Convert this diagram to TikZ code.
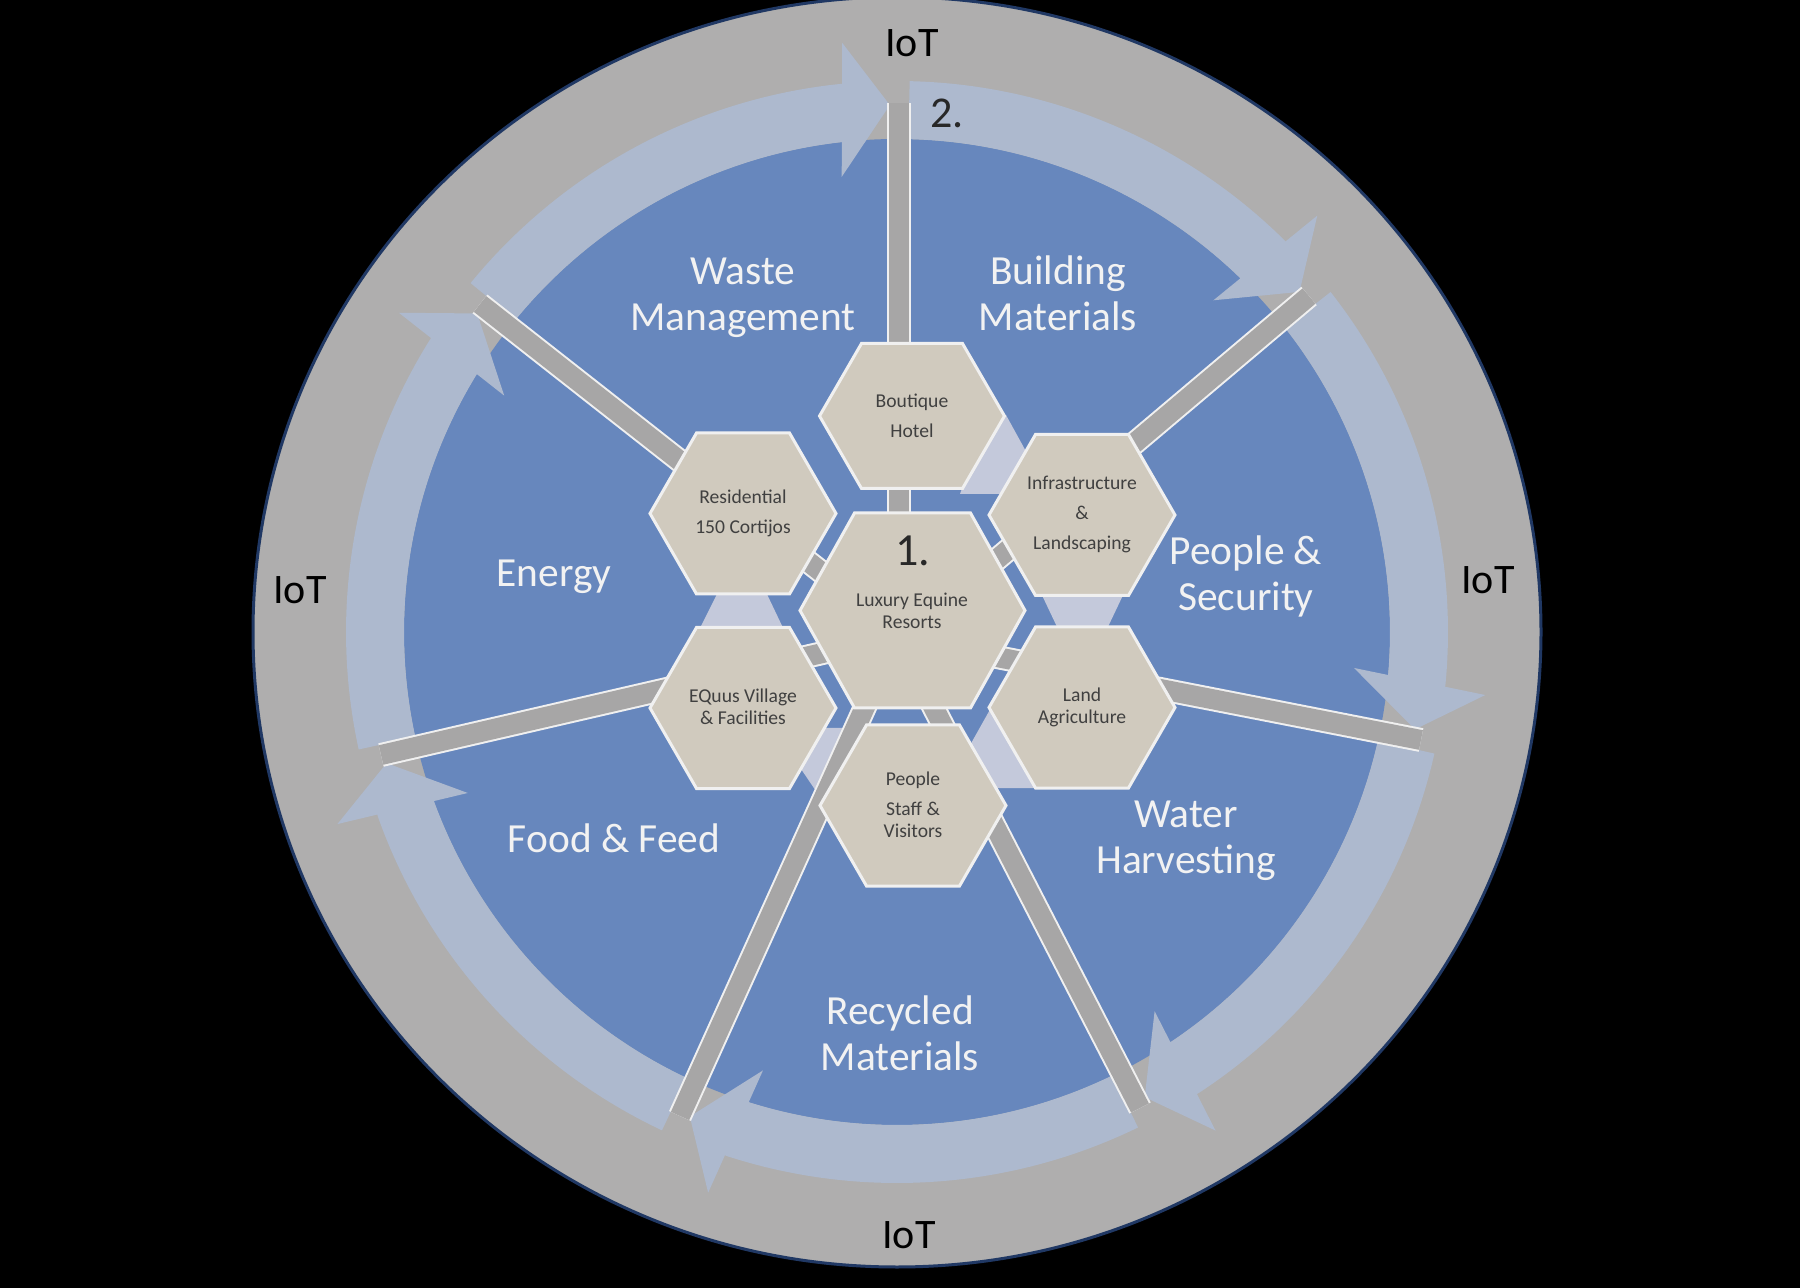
\documentclass[tikz,border=0pt]{standalone}
\usepackage{fontspec}
\setmainfont{Carlito}
\usetikzlibrary{calc}
\definecolor{ringgray}{RGB}{175,174,174}
\definecolor{spokegray}{RGB}{167,166,166}
\definecolor{navy}{RGB}{32,56,100}
\definecolor{discblue}{RGB}{103,135,189}
\definecolor{arrowc}{RGB}{173,185,206}
\definecolor{linkc}{RGB}{196,201,219}
\definecolor{hexfill}{RGB}{208,202,190}
\definecolor{hexline}{RGB}{240,240,240}
\definecolor{hextext}{RGB}{64,64,64}
\definecolor{labeltext}{RGB}{242,242,242}
\definecolor{numtext}{RGB}{40,40,40}
\newcommand{\hexshape}[5]{\filldraw[hexstyle] (#1-#3,#2) -- (#1-#4,#2-#5) -- (#1+#4,#2-#5) -- (#1+#3,#2) -- (#1+#4,#2+#5) -- (#1-#4,#2+#5) -- cycle;}
\begin{document}
\begin{tikzpicture}[x=0.5pt,y=-0.5pt,
  hexstyle/.style={fill=hexfill, draw=hexline, line width=1.5pt, line join=miter},
  hextxt/.style={text=hextext, align=center, font=\fontsize{9.8}{11}\selectfont, inner sep=0pt},
  seglabel/.style={text=labeltext, align=center, font=\fontsize{20.7}{23}\selectfont, inner sep=0pt},
  iot/.style={text=black, font=\fontsize{21}{25}\selectfont, inner sep=0pt},
  numlabel/.style={text=numtext, inner sep=0pt},
  spokeedge/.style={draw=hexline, line width=12pt},
  spokecore/.style={draw=spokegray, line width=10pt},
  link/.style={fill=linkc}]
\useasboundingbox (0,0) rectangle (1800,1288);
\fill[black] (0,0) rectangle (1800,1288);
\begin{scope}
\clip (0,0) rectangle (1800,1288);
\filldraw[fill=ringgray, draw=navy, line width=1.5pt] (897,632) ellipse [x radius=644, y radius=635];
\end{scope}
\fill[discblue] (897,632) circle[radius=493];
% circular arrows (clockwise), head back edge parallel to the spoke it meets
\begin{scope}[shift={(897,632)}, yscale=-1]
\foreach \a/\b in {141.81/89.78, 89.78/39.20, 39.20/-11.65, -11.65/-62.96, -62.96/-114.15, -114.15/-166.59, 193.41/141.81}{
  \pgfmathsetmacro{\aS}{\a-1.1}
  \pgfmathsetmacro{\aT}{\b+1.0}
  \pgfmathsetmacro{\aB}{\b+6.24}
  \fill[arrowc] (\aS:551) arc[start angle=\aS, end angle=\aB, radius=551]
    -- ($(\aB:525)+(\b:26)$) -- ($(\aB:525)+(\b:67)$) -- (\aT:527)
    -- ($(\aB:525)+(\b:-67)$) -- ($(\aB:525)+(\b:-32)$) -- (\aB:493)
    arc[start angle=\aB, end angle=\aS, radius=493] -- cycle;
}
\end{scope}
% light links between outer hexagons
\fill[link] (1006,415) -- (1028,455) -- (1001,494) -- (960,494) -- (965,480) -- cycle;
\fill[link] (1040,591) -- (1125,591) -- (1106,631) -- (1059,631) -- cycle;
\fill[link] (969,747) -- (992,706) -- (1036,788) -- (996,788) -- cycle;
\fill[link] (820,728) -- (868,728) -- (824,803) -- (799,766) -- cycle;
\fill[link] (719,590) -- (765,590) -- (785,632) -- (698,632) -- cycle;
% spokes
\coordinate (s1in) at (899,500);  \coordinate (s1out) at (899,103);
\coordinate (s2in) at (1002,555); \coordinate (s2out) at (1309,296);
\coordinate (s3in) at (1007,659); \coordinate (s3out) at (1421,740);
\coordinate (s4in) at (939,718);  \coordinate (s4out) at (1140,1108);
\coordinate (s5in) at (860,718);  \coordinate (s5out) at (680,1116);
\coordinate (s6in) at (814,655);  \coordinate (s6out) at (381,755);
\coordinate (s7in) at (815,567);  \coordinate (s7out) at (480,304);
\foreach \s in {1,...,7}{
  \draw[spokeedge] ($(s\s in)!-0.1!(s\s out)$) -- (s\s out);
  \draw[spokecore] ($(s\s in)!-0.1!(s\s out)$) -- (s\s out);
}
% hexagons
\hexshape{912}{416}{92.5}{50.5}{72.5}
\hexshape{912.5}{610.5}{112.5}{58}{97.5}
\hexshape{1082}{515}{93}{46.5}{80.5}
\hexshape{1082}{707.5}{93}{46.5}{80.5}
\hexshape{913}{805.5}{93}{46.5}{80.5}
\hexshape{743}{708}{93}{46.5}{80.5}
\hexshape{743}{513.5}{93}{46.5}{80.5}
% hexagon texts
\node[hextxt] (hotel) at (912,416) {Boutique\\[4pt]Hotel};
\node[numlabel, font=\fontsize{23}{25}\selectfont] (one) at (913,551) {1.};
\node[hextxt] (core) at (912,611) {Luxury Equine\\Resorts};
\node[hextxt] (infra) at (1082,514) {Infrastructure\\[4pt]\&\\[4pt]Landscaping};
\node[hextxt] (land) at (1082,707) {Land\\Agriculture};
\node[hextxt] (people) at (913,805) {People\\[4pt]Staff \&\\Visitors};
\node[hextxt] (equus) at (743,707) {EQuus Village\\\& Facilities};
\node[hextxt] (resid) at (743,513) {Residential\\[4pt]150 Cortijos};
% segment labels
\node[seglabel] (waste) at (743,298) {Waste\\Management};
\node[seglabel] (building) at (1058,293) {Building\\Materials};
\node[seglabel] (security) at (1246,576) {People \&\\Security};
\node[seglabel] (water) at (1186,841) {Water\\Harvesting};
\node[seglabel] (recycled) at (900,1033) {Recycled\\Materials};
\node[seglabel] (food) at (614,838) {Food \& Feed};
\node[seglabel] (energy) at (554,577) {Energy};
% IoT labels and number
\node[iot] (iottop) at (912,43) {IoT};
\node[iot] (iotleft) at (300,590) {IoT};
\node[iot] (iotright) at (1488,580) {IoT};
\node[iot] (iotbottom) at (909,1235) {IoT};
\node[numlabel, font=\fontsize{22}{25}\selectfont] (two) at (947,113) {2.};
\end{tikzpicture}
\end{document}
